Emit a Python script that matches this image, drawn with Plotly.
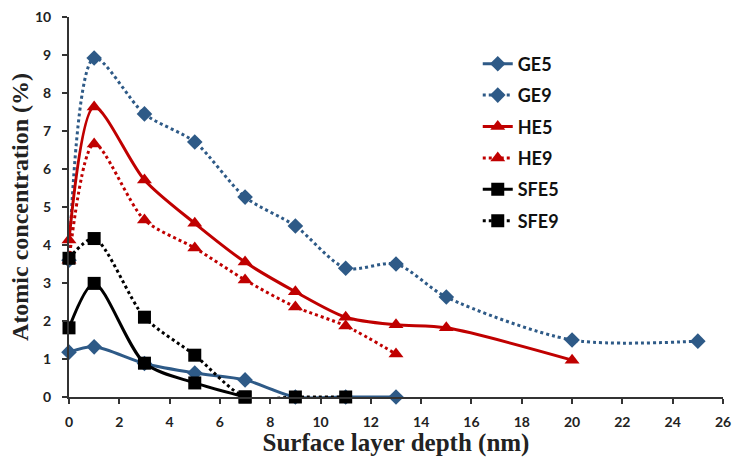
import plotly.graph_objects as go

ge5_x = [0, 1, 3, 5, 7, 9, 11, 13]
ge5_y = [1.18, 1.32, 0.88, 0.63, 0.45, 0, 0, 0]
ge9_x = [0, 1, 3, 5, 7, 9, 11, 13, 15, 20, 25]
ge9_y = [3.6, 8.92, 7.45, 6.71, 5.26, 4.5, 3.39, 3.5, 2.63, 1.5, 1.47]
he5_x = [0, 1, 3, 5, 7, 9, 11, 13, 15, 20]
he5_y = [4.13, 7.63, 5.71, 4.57, 3.55, 2.77, 2.1, 1.9, 1.82, 0.97]
he9_x = [0, 1, 3, 5, 7, 9, 11, 13]
he9_y = [3.6, 6.66, 4.66, 3.92, 3.08, 2.37, 1.87, 1.13]
sfe5_x = [0, 1, 3, 5, 7]
sfe5_y = [1.82, 2.99, 0.89, 0.37, 0]
sfe9_x = [0, 1, 3, 5, 7, 9, 11]
sfe9_y = [3.65, 4.17, 2.1, 1.1, 0, 0, 0]

x_ticks = list(range(0, 27, 2))
y_ticks = list(range(0, 11))

BLUE = "#2E5A87"
RED = "#C00000"
BLACK = "#000000"

series = [
    ("GE5", ge5_x, ge5_y, BLUE, "solid", "diamond", 12),
    ("GE9", ge9_x, ge9_y, BLUE, "dot", "diamond", 12),
    ("HE5", he5_x, he5_y, RED, "solid", "triangle-up", 13),
    ("HE9", he9_x, he9_y, RED, "dot", "triangle-up", 13),
    ("SFE5", sfe5_x, sfe5_y, BLACK, "solid", "square", 13),
    ("SFE9", sfe9_x, sfe9_y, BLACK, "dot", "square", 13),
]

fig = go.Figure()
for name, xs, ys, col, dash, sym, size in series:
    fig.add_trace(go.Scatter(
        x=xs, y=ys, name="<b>" + name + "</b>", legendgroup=name,
        mode="lines+markers",
        line=dict(color=col, width=3, dash=dash, shape="spline", smoothing=0.8),
        marker=dict(color=col, symbol=sym, size=size),
        cliponaxis=False,
    ))

tick_font = dict(family="Lato, Open Sans, sans-serif", size=14, color="#222222")
serif = "Liberation Serif, Times New Roman, serif"

fig.update_layout(
    width=732, height=457,
    margin=dict(l=69, r=9, t=17, b=60),
    paper_bgcolor="white", plot_bgcolor="white",
    showlegend=True,
    legend=dict(
        x=0.625, y=0.925, xanchor="left", yanchor="top",
        font=dict(family="Lato, Open Sans, sans-serif", size=18, color="#111111"),
        tracegroupgap=5, itemwidth=30, bgcolor="rgba(0,0,0,0)",
    ),
    xaxis=dict(
        range=[0, 26], tickvals=x_ticks, ticktext=["<b>%d</b>" % v for v in x_ticks],
        showgrid=False, zeroline=False, automargin=False,
        showline=True, linecolor="#333333", linewidth=2,
        ticks="outside", ticklen=5, tickwidth=2, tickcolor="#333333",
        tickfont=tick_font, ticklabelstandoff=6,
        title=dict(text="<b>Surface layer depth (nm)</b>",
                   font=dict(family=serif, size=25, color="#222222"), standoff=0),
    ),
    yaxis=dict(
        range=[0, 10], tickvals=y_ticks, ticktext=["<b>%d</b>" % v for v in y_ticks],
        showgrid=False, zeroline=False, automargin=False,
        showline=True, linecolor="#333333", linewidth=2,
        ticks="outside", ticklen=5, tickwidth=2, tickcolor="#333333",
        tickfont=tick_font, ticklabelstandoff=8,
        title=dict(text="<b>Atomic concentration (%)</b>",
                   font=dict(family=serif, size=24, color="#222222"), standoff=0),
    ),
)

fig.write_html("out.html", config={"displayModeBar": False},
               post_script="document.body.style.margin='0';")
